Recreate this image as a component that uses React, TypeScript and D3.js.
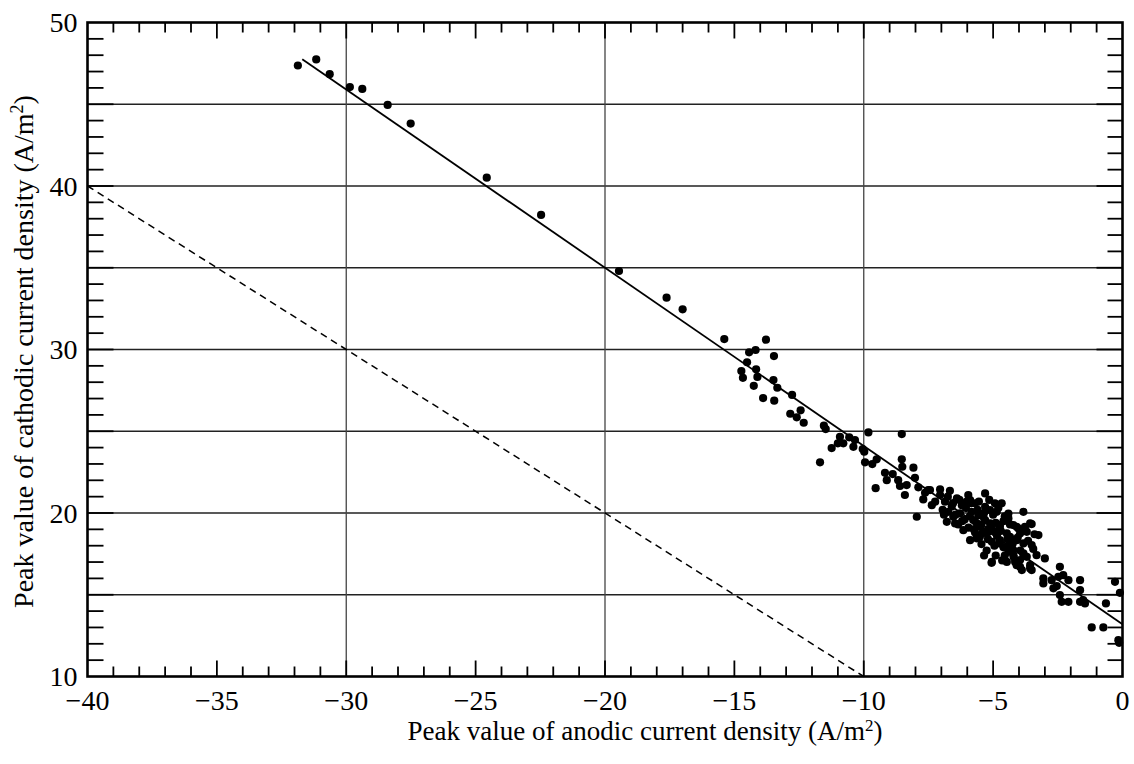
import React from 'react';
import * as d3 from 'd3';

const anodic = [
  -31.87, -31.16, -30.64, -29.86, -29.38, -28.4, -27.51, -24.57, -22.47, -19.46, -17.62, -17.0,
  -15.39, -13.78, -14.43, -14.18, -13.47, -14.51, -14.73, -14.67, -14.16, -14.11, -14.25, -13.49,
  -13.34, -13.89, -13.46, -12.77, -12.84, -12.59, -12.44, -12.32, -11.54, -11.47, -11.69, -10.92,
  -10.79, -11.0, -11.24, -10.56, -10.34, -10.4, -9.82, -10.04, -9.98, -9.95, -9.67, -9.5, -9.54,
  -8.53, -9.18, -8.88, -9.11, -8.53, -8.51, -8.08, -8.67, -8.6, -8.34, -8.41, -8.02, -7.89, -7.63,
  -7.7, -7.51,
  -7.44, -7.37, -7.24, -7.05, -6.67, -7.05, -6.86, -7.95, -6.73, -6.54, -6.79, -6.47, -6.21, -5.96,
  -5.89, -5.31, -6.15, -5.83, -5.57, -5.31, -5.51, -5.12, -4.93, -4.86, -5.19, -5.64, -4.74, -4.41,
  -4.41, -4.74, -4.35, -4.09, -4.15, -4.47,
  -6.28, -5.77, -5.38, -5.12, -5.89, -5.51, -5.25, -4.93, -4.74, -5.05, -4.74, -4.47, -4.22, -4.03,
  -3.77, -3.57, -3.96, -3.7, -3.25, -4.09, -3.83, -3.51, -4.41, -4.22, -3.83, -3.7, -3.32, -3.0,
  -5.05, -4.47, -4.15, -3.96, -3.57, -3.89,
  -6.02, -5.7, -5.31, -4.67, -3.83, -3.51,
  -5.06, -4.22, -3.96, -3.83, -4.09, -3.57, -3.51,
  -2.42, -3.06, -2.74, -2.48, -2.29, -2.09, -3.06, -2.67, -2.54, -2.42, -2.35, -2.09, -1.64, -1.64,
  -1.64, -1.52, -1.45, -0.64, -0.29, -0.1,
  -1.19, -0.74, -0.16, -0.13,
  -6.6, -6.4, -6.1, -5.95, -5.6, -5.45, -5.2, -5.0, -4.85, -4.6, -4.3, -4.55, -5.7, -6.35, -5.25,
  -4.9, -6.9,
  -6.95, -6.75, -6.55, -6.45, -6.3, -6.2, -6.05, -5.9, -5.85, -5.75, -5.65, -5.55, -5.45, -5.4,
  -5.35, -5.2, -5.15, -5.05, -4.95, -4.9, -4.8, -4.7, -4.6, -4.55, -4.45, -4.35, -4.25, -4.2,
  -4.05, -3.95, -3.85, -3.65, -3.45, -3.4, -4.65, -5.35,
];

const cathodic = [
  47.37, 47.74, 46.84, 46.05, 45.94, 44.96, 43.82, 40.51, 38.23, 34.8, 33.17, 32.46,
  30.64, 30.6, 29.83, 29.97, 29.6, 29.22, 28.68, 28.27, 28.79, 28.32, 27.78, 28.13,
  27.66, 27.03, 26.87, 27.22, 26.07, 25.85, 26.28, 25.52, 25.34, 25.13, 23.1, 24.66,
  24.26, 24.26, 23.97, 24.63, 24.46, 24.05, 24.93, 23.91, 23.75, 23.1, 22.99, 23.28, 21.52,
  24.83, 22.46, 22.38, 22.01, 23.28, 22.83, 22.77, 22.01, 21.65, 21.71, 21.1, 22.15, 21.57, 21.24,
  20.83, 21.4,
  21.4, 20.48, 20.69, 21.44, 21.36, 21.1, 20.69, 19.77, 20.07, 19.77, 19.46, 19.36, 20.48, 21.1,
  20.79, 21.2, 18.95, 20.07, 19.87, 19.57, 19.16, 20.18, 20.59, 20.07, 18.85, 18.45, 19.26, 19.97,
  19.67, 18.34, 18.54, 19.16, 18.34, 17.93,
  19.98, 19.57, 19.77, 19.36, 18.34, 18.54, 18.75, 18.85, 19.16, 18.24, 18.14, 18.75, 19.26, 19.06,
  19.16, 19.36, 18.75, 18.85, 18.65, 18.34, 18.14, 18.04, 17.63, 17.73, 17.53, 17.32, 17.42, 17.22,
  17.01, 17.01, 17.01, 16.71, 16.61, 16.51,
  20.69, 20.59, 20.38, 20.59, 20.07, 19.32,
  16.95, 17.42, 17.12, 17.48, 16.81, 16.81, 16.51,
  16.71, 16.0, 15.89, 16.1, 16.2, 15.89, 15.69, 15.39, 15.53, 14.98, 14.57, 14.57, 15.89, 15.28,
  14.57, 14.67, 14.47, 14.47, 15.79, 15.12,
  13.0, 13.0, 12.22, 12.06,
  20.4, 20.9, 19.6, 19.1, 20.2, 18.1, 19.0, 19.9, 18.6, 19.5, 18.0, 17.4, 18.8, 19.3, 17.7,
  17.4, 19.9,
  20.2, 21.0, 20.6, 19.9, 20.8, 19.5, 20.3, 19.8, 20.6, 19.0, 19.4, 20.7, 19.3, 18.8,
  20.0, 18.4, 20.8, 19.1, 18.0, 19.4, 20.3, 18.9, 17.9, 19.8, 18.4, 19.3, 18.1, 17.3,
  18.5, 17.7, 18.9, 18.3, 17.8, 18.7, 17.1, 17.4,
];

const xTickValues = [-40, -35, -30, -25, -20, -15, -10, -5, 0];
const yTickValues = [10, 20, 30, 40, 50];
const hGridValues = [15, 20, 25, 30, 35, 40, 45];
const vGridValues = [-30, -20, -10];
const fitSlope = -1.09;
const fitIntercept = 13.2;
const fitRange = [-31.7, 0];
const equalityRange = [-40, -10];

const FONT = "'Liberation Serif', 'Times New Roman', serif";

export default function App() {
  const W = 1134;
  const H = 764;
  const L = 87.5, R = 1122.5, T = 22.5, B = 676.5;
  const x = d3.scaleLinear().domain([-40, 0]).range([L, R]);
  const y = d3.scaleLinear().domain([10, 50]).range([B, T]);

  const xMinor = d3.range(-39, 0).filter((v) => v % 5 !== 0);
  const xMajor = d3.range(-35, 0, 5);
  const yMinor = d3.range(11, 50).filter((v) => v % 5 !== 0);
  const yMajor = d3.range(15, 50, 5);

  const line = d3.line<number>().x((v) => x(v)).y((v) => y(fitIntercept + fitSlope * v));
  const eqLine = d3.line<number>().x((v) => x(v)).y((v) => y(-v));

  const pts = anodic.map((a, i) => [a, cathodic[i]]);

  return (
    <svg
      width={W}
      height={H}
      style={{ position: 'absolute', left: 0, top: 0, background: '#fff' }}
      fontFamily={FONT}
    >
      <rect x={0} y={0} width={W} height={H} fill="#fff" />
      {hGridValues.map((v) => (
        <line key={'h' + v} x1={L} x2={R} y1={y(v)} y2={y(v)} stroke="#222" strokeWidth={1.3} />
      ))}
      {vGridValues.map((v) => (
        <line key={'v' + v} x1={x(v)} x2={x(v)} y1={T} y2={B} stroke="#444" strokeWidth={1.3} />
      ))}
      {xMinor.map((v) => (
        <g key={'xm' + v}>
          <line x1={x(v)} x2={x(v)} y1={B} y2={B - 10} stroke="#000" strokeWidth={1.8} />
          <line x1={x(v)} x2={x(v)} y1={T} y2={T + 10} stroke="#000" strokeWidth={1.8} />
        </g>
      ))}
      {xMajor.map((v) => (
        <g key={'xM' + v}>
          <line x1={x(v)} x2={x(v)} y1={B} y2={B - 16} stroke="#000" strokeWidth={1.8} />
          <line x1={x(v)} x2={x(v)} y1={T} y2={T + 16} stroke="#000" strokeWidth={1.8} />
        </g>
      ))}
      {yMinor.map((v) => (
        <g key={'ym' + v}>
          <line x1={L} x2={L + 16} y1={y(v)} y2={y(v)} stroke="#000" strokeWidth={1.8} />
          <line x1={R} x2={R - 15} y1={y(v)} y2={y(v)} stroke="#000" strokeWidth={1.8} />
        </g>
      ))}
      {yMajor.map((v) => (
        <g key={'yM' + v}>
          <line x1={L} x2={L + 26} y1={y(v)} y2={y(v)} stroke="#000" strokeWidth={1.8} />
          <line x1={R} x2={R - 26} y1={y(v)} y2={y(v)} stroke="#000" strokeWidth={1.8} />
        </g>
      ))}
      <path d={eqLine(equalityRange) || ''} fill="none" stroke="#000" strokeWidth={1.5} strokeDasharray="7,5" />
      <path d={line(fitRange) || ''} fill="none" stroke="#000" strokeWidth={1.8} />
      {pts.map((p, i) => (
        <circle key={i} cx={x(p[0])} cy={y(p[1])} r={4.1} fill="#000" />
      ))}
      <rect x={L} y={T} width={R - L} height={B - T} fill="none" stroke="#000" strokeWidth={2.6} />
      {xTickValues.map((v) => (
        <text key={'xl' + v} x={x(v)} y={710} textAnchor="middle" fontSize={28} fill="#000">
          {v < 0 ? '\u2212' + Math.abs(v) : String(v)}
        </text>
      ))}
      {yTickValues.map((v) => (
        <text key={'yl' + v} x={L - 10} y={y(v)} textAnchor="end" dominantBaseline="central" fontSize={28} fill="#000">
          {v}
        </text>
      ))}
      <text x={645} y={740} textAnchor="middle" fontSize={27} fill="#000">
        Peak value of anodic current density (A/m<tspan dy={-9} fontSize={17}>2</tspan><tspan dy={9}>)</tspan>
      </text>
      <text
        transform={`translate(33, ${(T + B) / 2 + 2}) rotate(-90)`}
        textAnchor="middle"
        fontSize={28}
        fill="#000"
      >
        Peak value of cathodic current density (A/m<tspan dy={-10} fontSize={18}>2</tspan><tspan dy={10}>)</tspan>
      </text>
    </svg>
  );
}
